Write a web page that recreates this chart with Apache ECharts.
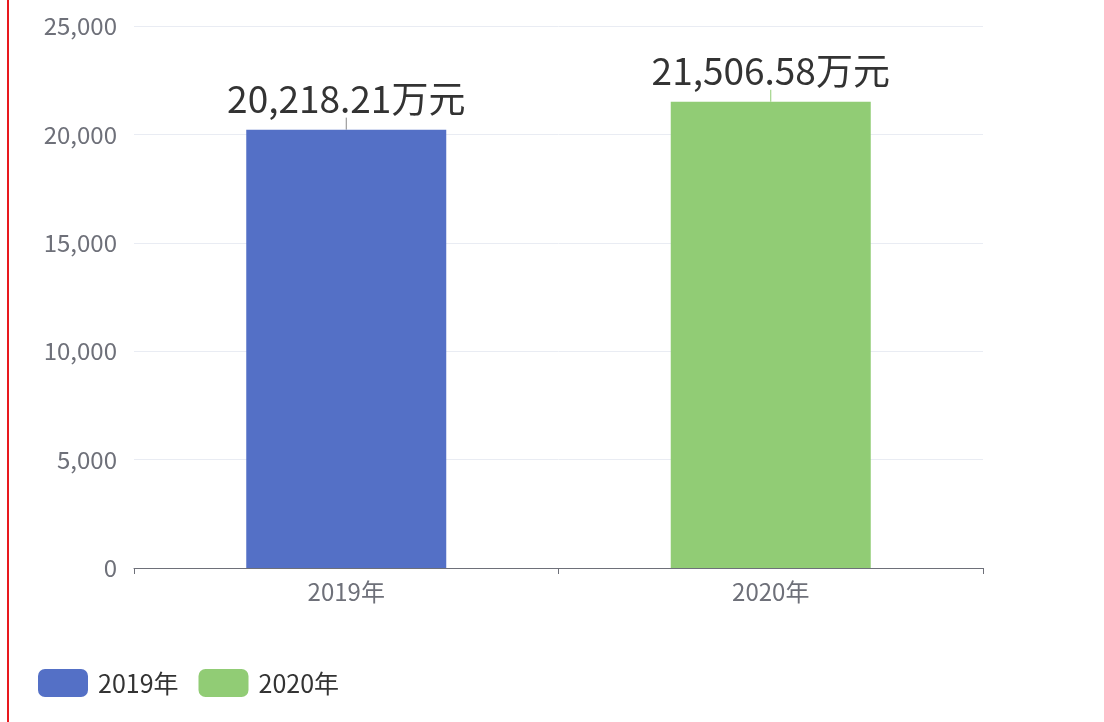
<!DOCTYPE html>
<html><head><meta charset="utf-8">
<script src="https://cdn.jsdelivr.net/npm/echarts@6/dist/echarts.min.js"></script>
<style>
html,body{margin:0;padding:0;background:#fff;}
#wrap{position:absolute;left:0;top:0;width:1104px;height:722px;}
#bar{position:absolute;left:7px;top:0;width:2px;height:722px;background:#e8191e;}
#chart{position:absolute;left:0;top:0;width:1104px;height:722px;}
</style></head>
<body>
<div id="wrap"><div id="chart"></div><div id="bar"></div></div>
<script>
const categories = ['2019年', '2020年'];
const seriesNames = ['2019年', '2020年'];
const values2019 = [20218.21, null];
const values2020 = [null, 21506.58];
const yTicks = [0, 5000, 10000, 15000, 20000, 25000];

const font = '"Microsoft YaHei","Noto Sans CJK SC","Noto Sans",sans-serif';
function fmt(v){
  return v.toLocaleString('en-US',{minimumFractionDigits:2,maximumFractionDigits:2}) + '万元';
}
const chart = echarts.init(document.getElementById('chart'));
const labelCfg = {
  show: true, position: 'top', distance: 2,
  fontSize: 37, color: '#333', fontFamily: font,
  formatter: p => fmt(p.value)
};
chart.setOption({
  animation: false,
  color: ['#5470c6', '#91cc75'],
  grid: {left: 134, right: 121, top: 26, bottom: 154},
  legend: {
    left: 33, bottom: 20, itemWidth: 50, itemHeight: 28, itemGap: 20,
    textStyle: {fontSize: 25, color: '#333', fontFamily: font, padding: [0, 0, 0, 5]},
    data: seriesNames
  },
  xAxis: {
    type: 'category', data: categories,
    axisLine: {lineStyle: {color: '#6E7079'}},
    axisTick: {show: true, length: 6},
    axisLabel: {fontSize: 24, color: '#6E7079', margin: 12, fontFamily: font}
  },
  yAxis: {
    type: 'value', min: yTicks[0], max: yTicks[yTicks.length-1], interval: 5000,
    axisLine: {show: false}, axisTick: {show: false},
    axisLabel: {fontSize: 24, color: '#6E7079', margin: 17, fontFamily: font,
      formatter: v => v.toLocaleString('en-US')},
    splitLine: {lineStyle: {color: '#E9ECF3'}}
  },
  series: [
    {name: seriesNames[0], type: 'bar', data: values2019, barWidth: 200, barGap: '-100%',
     label: labelCfg, labelLayout: {dy: -10}, labelLine: {show: true, lineStyle: {color: '#888', width: 1}}},
    {name: seriesNames[1], type: 'bar', data: values2020, barWidth: 200, barGap: '-100%',
     label: labelCfg, labelLayout: {dy: -10}, labelLine: {show: true, lineStyle: {color: '#91cc75', width: 1}}}
  ]
});
</script>
</body></html>
